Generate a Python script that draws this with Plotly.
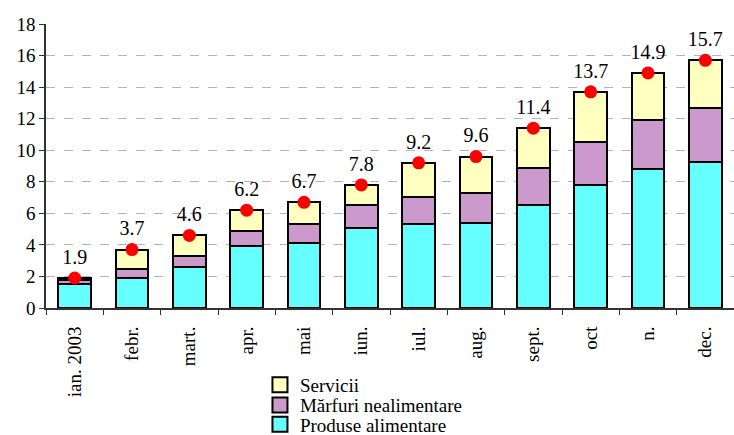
import plotly.graph_objects as go

months = ["ian. 2003", "febr.", "mart.", "apr.", "mai", "iun.", "iul.", "aug.", "sept.", "oct", "n.", "dec."]
totals = [1.9, 3.7, 4.6, 6.2, 6.7, 7.8, 9.2, 9.6, 11.4, 13.7, 14.9, 15.7]
food = [1.5, 1.9, 2.6, 3.9, 4.1, 5.1, 5.35, 5.4, 6.5, 7.8, 8.8, 9.25]
nonfood = [0.25, 0.55, 0.7, 1.0, 1.25, 1.4, 1.7, 1.9, 2.35, 2.75, 3.1, 3.45]
services = [round(t - f - n, 2) for t, f, n in zip(totals, food, nonfood)]
total_labels = [f"{t:.1f}" for t in totals]

series_names = ["Produse alimentare", "Mărfuri nealimentare", "Servicii"]
series_colors = ["#66FFFF", "#CC99CC", "#FFFFC0"]
series_values = [food, nonfood, services]
legend_ids = ["legend3", "legend2", "legend"]

FONT = "Times New Roman, Liberation Serif, serif"
line = dict(color="black", width=2)

fig = go.Figure()
for name, color, vals in zip(series_names, series_colors, series_values):
    fig.add_trace(go.Bar(x=months, y=vals, name=name, legendgroup=name, showlegend=False,
                         marker=dict(color=color, line=line)))
fig.add_trace(go.Scatter(x=months, y=totals, mode="markers+text",
                         text=total_labels, textposition="top center",
                         textfont=dict(family=FONT, size=20, color="black"),
                         marker=dict(color="#FF0000", size=13),
                         showlegend=False, cliponaxis=False))
# legend entries (square swatches), one legend per row for tight spacing
for name, color, lg in zip(series_names, series_colors, legend_ids):
    fig.add_trace(go.Scatter(x=[None], y=[None], mode="markers", name=name, legendgroup=name,
                             legend=lg,
                             marker=dict(symbol="square", size=15, color=color,
                                         line=dict(color="black", width=2))))

legend_style = dict(xanchor="left", yanchor="middle", x=0.311,
                    font=dict(family=FONT, size=19), bgcolor="rgba(0,0,0,0)",
                    itemwidth=30, itemsizing="trace")

fig.update_layout(
    width=734, height=435,
    margin=dict(l=46, r=0, t=24, b=127, autoexpand=False),
    barmode="stack", bargap=0.43,
    plot_bgcolor="white", paper_bgcolor="white",
    font=dict(family=FONT, size=19, color="black"),
    legend=dict(y=-0.271, **legend_style),
    legend2=dict(y=-0.342, **legend_style),
    legend3=dict(y=-0.410, **legend_style),
)
fig.update_xaxes(range=[-0.5, 11.5], showline=True, linecolor="#333333", linewidth=2,
                 ticks="outside", tickson="boundaries", ticklen=5, tickcolor="#333333",
                 tickangle=-90, tickfont=dict(family=FONT, size=19), showgrid=False,
                 automargin=False, ticklabelstandoff=9)
fig.update_yaxes(range=[0, 18], dtick=2, showline=True, linecolor="#333333", linewidth=1.5,
                 ticks="outside", ticklen=5, tickcolor="#333333",
                 showgrid=True, gridcolor="#b4b4b4", griddash="dash", gridwidth=1,
                 zeroline=False, tickfont=dict(family=FONT, size=19), automargin=False)

fig.write_html("out.html", config={"displayModeBar": False},
               post_script="document.body.style.margin='0';document.body.style.overflow='hidden';")
